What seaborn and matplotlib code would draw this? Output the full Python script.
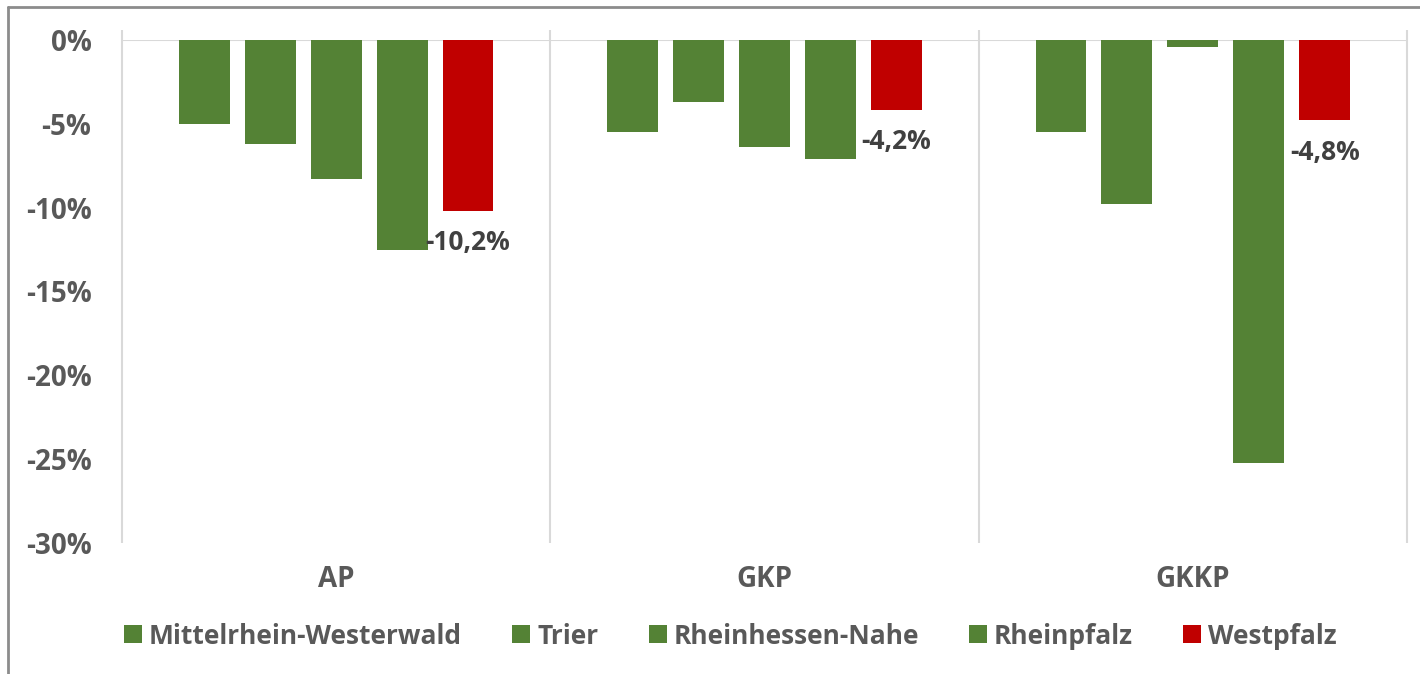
import pandas as pd
import matplotlib.pyplot as plt
import seaborn as sns
from matplotlib.ticker import FuncFormatter
from matplotlib.lines import Line2D

# Werte in Prozent
categories = ['AP', 'GKP', 'GKKP']
regions = ['Mittelrhein-Westerwald', 'Trier', 'Rheinhessen-Nahe', 'Rheinpfalz', 'Westpfalz']
values = {
    'Mittelrhein-Westerwald': [-5.0, -5.5, -5.5],
    'Trier': [-6.2, -3.7, -9.8],
    'Rheinhessen-Nahe': [-8.3, -6.4, -0.4],
    'Rheinpfalz': [-12.5, -7.1, -25.2],
    'Westpfalz': [-10.2, -4.2, -4.8],
}
label_region = 'Westpfalz'
yticks = [0, -5, -10, -15, -20, -25, -30]

sns.set_theme(style='white')
plt.rcParams['font.family'] = ['Open Sans', 'DejaVu Sans']
plt.rcParams['font.weight'] = 'bold'

rows = []
for r in regions:
    for c, v in zip(categories, values[r]):
        rows.append({'category': c, 'region': r, 'value': v})
df = pd.DataFrame(rows)

palette = {r: '#548235' for r in regions}
palette['Westpfalz'] = '#C00000'

W, H = 1420, 674
fig = plt.figure(figsize=(W / 100, H / 100), dpi=100)
ax = fig.add_axes([122 / W, 1 - 543 / H, (1407 - 122) / W, (543 - 40) / H])

sns.barplot(data=df, x='category', y='value', hue='region', hue_order=regions,
            order=categories, palette=palette, width=0.77, gap=0.23,
            saturation=1, linewidth=0, ax=ax)

ax.set_xlim(-0.5, len(categories) - 0.5)
ax.set_ylim(-30, 0)
ax.set_yticks(yticks)
ax.yaxis.set_major_formatter(FuncFormatter(lambda v, p: f'{int(round(v))}%'))
for s in ax.spines.values():
    s.set_visible(False)
ax.tick_params(axis='y', length=0, pad=22, labelsize=20, labelcolor='#595959')
ax.tick_params(axis='x', length=0, pad=16, labelsize=20, labelcolor='#595959')
for t in ax.get_xticklabels() + ax.get_yticklabels():
    t.set_fontweight('bold')
ax.set_xlabel('')
ax.set_ylabel('')

# Null-Linie und Kategorie-Trennlinien
ax.axhline(0, color='#d9d9d9', linewidth=1.5, zorder=0.5)
bounds = [i - 0.5 for i in range(len(categories) + 1)]
ax.vlines(bounds, -30, 0.6, color='#d9d9d9', linewidth=1.5, clip_on=False, zorder=0.5)

# Datenbeschriftung nur fuer Westpfalz
cont = ax.containers[regions.index(label_region)]
labels = [f'{v:.1f}%'.replace('.', ',') for v in values[label_region]]
ax.bar_label(cont, labels=labels, padding=13, fontsize=19, fontweight='bold',
             color='#404040')

# Legende
ax.get_legend().remove()
handles = [Line2D([0], [0], marker='s', linestyle='', markersize=13,
                  markerfacecolor=palette[r], markeredgewidth=0) for r in regions]
leg = fig.legend(handles, regions, loc='center', bbox_to_anchor=(731 / W, 1 - 636 / H),
                 ncol=5, frameon=False, fontsize=19, handlelength=0.6,
                 handletextpad=0.3, columnspacing=1.95)
for t in leg.get_texts():
    t.set_color('#595959')
    t.set_fontweight('bold')

# Rahmen
fig.add_artist(Line2D([8 / W, 1], [1 - 7 / H, 1 - 7 / H], color='#8c8c8c', linewidth=2,
                      transform=fig.transFigure))
fig.add_artist(Line2D([8 / W, 8 / W], [0, 1 - 7 / H], color='#8c8c8c', linewidth=2,
                      transform=fig.transFigure))

fig.savefig('out.png', dpi=100)
